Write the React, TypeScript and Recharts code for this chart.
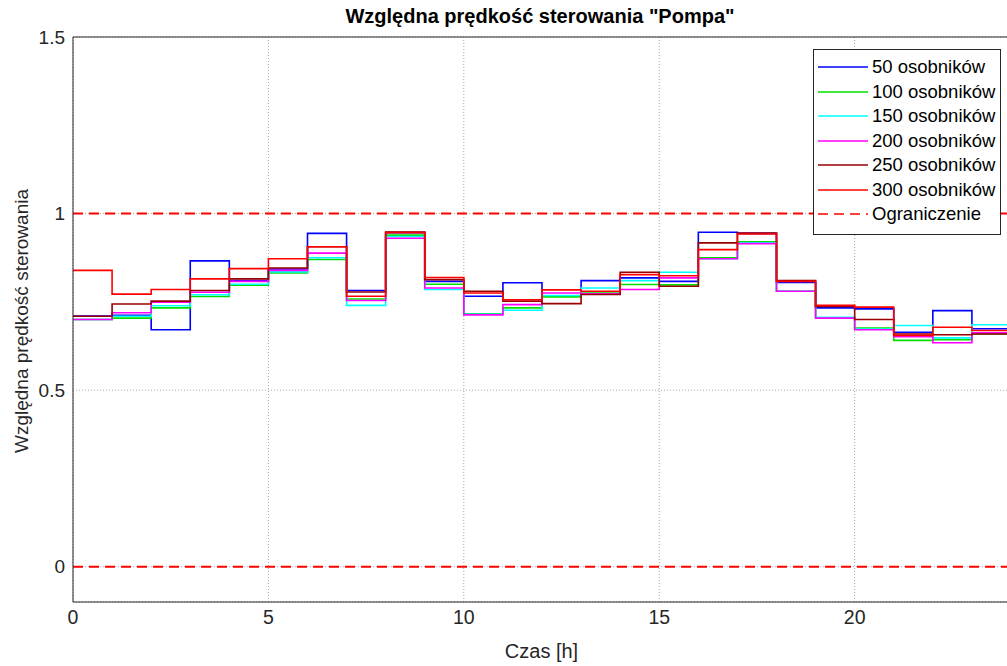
import { CartesianGrid, Line, LineChart, ReferenceLine, XAxis, YAxis } from "recharts";

// godziny (punkt 24 powtarza wartość z 23, żeby domknąć ostatni schodek)
const HOURS = [0, 1, 2, 3, 4, 5, 6, 7, 8, 9, 10, 11, 12, 13, 14, 15, 16, 17, 18, 19, 20, 21, 22, 23, 24];

const S50 = [0.71, 0.712, 0.671, 0.866, 0.81, 0.843, 0.944, 0.782, 0.946, 0.808, 0.766, 0.804, 0.766, 0.81, 0.818, 0.808, 0.947, 0.944, 0.805, 0.733, 0.73, 0.664, 0.725, 0.674];
const S100 = [0.7, 0.704, 0.733, 0.765, 0.797, 0.832, 0.87, 0.758, 0.939, 0.8, 0.716, 0.733, 0.764, 0.775, 0.799, 0.798, 0.875, 0.92, 0.78, 0.705, 0.676, 0.641, 0.643, 0.659];
const S150 = [0.7, 0.709, 0.739, 0.77, 0.8, 0.835, 0.875, 0.74, 0.935, 0.785, 0.715, 0.726, 0.768, 0.789, 0.81, 0.834, 0.872, 0.917, 0.78, 0.706, 0.673, 0.683, 0.648, 0.685];
const S200 = [0.7, 0.719, 0.749, 0.777, 0.808, 0.839, 0.888, 0.754, 0.93, 0.789, 0.713, 0.742, 0.775, 0.773, 0.785, 0.818, 0.872, 0.915, 0.78, 0.704, 0.671, 0.651, 0.634, 0.662];
const S250 = [0.709, 0.744, 0.752, 0.782, 0.815, 0.846, 0.906, 0.778, 0.948, 0.813, 0.78, 0.752, 0.745, 0.771, 0.834, 0.794, 0.917, 0.945, 0.81, 0.737, 0.7, 0.659, 0.657, 0.659];
const S300 = [0.839, 0.772, 0.785, 0.815, 0.844, 0.872, 0.906, 0.766, 0.946, 0.819, 0.775, 0.756, 0.784, 0.78, 0.827, 0.824, 0.898, 0.942, 0.808, 0.74, 0.735, 0.655, 0.678, 0.669];

const SERIES = [
  { key: "s50", name: "50 osobników", color: "#0000ff", values: S50 },
  { key: "s100", name: "100 osobników", color: "#00e000", values: S100 },
  { key: "s150", name: "150 osobników", color: "#00ffff", values: S150 },
  { key: "s200", name: "200 osobników", color: "#ff00ff", values: S200 },
  { key: "s250", name: "250 osobników", color: "#990000", values: S250 },
  { key: "s300", name: "300 osobników", color: "#ff0000", values: S300 },
];

const LIMITS = [0, 1];
const X_TICKS = [0, 5, 10, 15, 20];
const Y_TICKS = [0, 0.5, 1, 1.5];

const data = HOURS.map((t, i) => {
  const row: Record<string, number> = { t };
  SERIES.forEach((s) => {
    row[s.key] = s.values[Math.min(i, s.values.length - 1)];
  });
  return row;
});

const FONT = "'Liberation Sans', Arial, Helvetica, sans-serif";

function LegendBox() {
  const rows = [
    ...SERIES.map((s) => ({ name: s.name, color: s.color, dash: undefined as string | undefined })),
    { name: "Ograniczenie", color: "#ff0000", dash: "10 6" },
  ];
  return (
    <div
      style={{
        position: "absolute",
        left: 813,
        top: 49,
        width: 186,
        height: 184,
        border: "1px solid #262626",
        background: "#fff",
        fontFamily: FONT,
        fontSize: 18.5,
        color: "#000",
      }}
    >
      {rows.map((r, i) => (
        <div
          key={r.name}
          style={{ position: "absolute", left: 3, top: 5 + i * 24.5, height: 24, display: "flex", alignItems: "center" }}
        >
          <svg width={52} height={10}>
            <line x1={1} y1={5} x2={51} y2={5} stroke={r.color} strokeWidth={1.5} strokeDasharray={r.dash} />
          </svg>
          <span style={{ marginLeft: 3, whiteSpace: "nowrap" }}>{r.name}</span>
        </div>
      ))}
    </div>
  );
}

export default function App() {
  return (
    <div
      style={{
        position: "absolute",
        left: 0,
        top: 0,
        width: 1007,
        height: 666,
        overflow: "hidden",
        background: "#fff",
        fontFamily: FONT,
      }}
    >
      <LineChart width={1020} height={666} data={data} margin={{ top: 37, right: 9, bottom: 0, left: 0 }}>
        <CartesianGrid stroke="#a8a8a8" strokeDasharray="1 2" />
        <XAxis
          type="number"
          dataKey="t"
          domain={[0, 24]}
          ticks={X_TICKS}
          height={64}
          tickLine={false}
          axisLine={{ stroke: "#262626" }}
          tick={{ fontSize: 19.5, fill: "#262626", fontFamily: FONT }}
          allowDataOverflow
        />
        <YAxis
          type="number"
          domain={[-0.1, 1.5]}
          ticks={Y_TICKS}
          width={73}
          tickLine={false}
          axisLine={{ stroke: "#262626" }}
          tick={{ fontSize: 19, fill: "#262626", fontFamily: FONT }}
          allowDataOverflow
        />
        <ReferenceLine y={1.5} stroke="#262626" strokeWidth={1} />
        {SERIES.map((s) => (
          <Line
            key={s.key}
            type="stepAfter"
            dataKey={s.key}
            name={s.name}
            stroke={s.color}
            strokeWidth={1.6}
            dot={false}
            activeDot={false}
            isAnimationActive={false}
          />
        ))}
        {LIMITS.map((y) => (
          <ReferenceLine key={y} y={y} stroke="#ff0000" strokeWidth={2} strokeDasharray="10 6" />
        ))}
      </LineChart>

      <div
        style={{
          position: "absolute",
          left: 73,
          width: 934,
          top: 5,
          textAlign: "center",
          fontWeight: "bold",
          fontSize: 20,
          color: "#000",
        }}
      >
        Względna prędkość sterowania "Pompa"
      </div>
      <div style={{ position: "absolute", left: 0, width: 1083, top: 640, textAlign: "center", fontSize: 20, color: "#262626" }}>
        Czas [h]
      </div>
      <div
        style={{
          position: "absolute",
          left: 22,
          top: 321,
          transform: "translate(-50%, -50%) rotate(-90deg)",
          whiteSpace: "nowrap",
          fontSize: 19,
          color: "#262626",
        }}
      >
        Względna prędkość sterowania
      </div>
      <LegendBox />
    </div>
  );
}
